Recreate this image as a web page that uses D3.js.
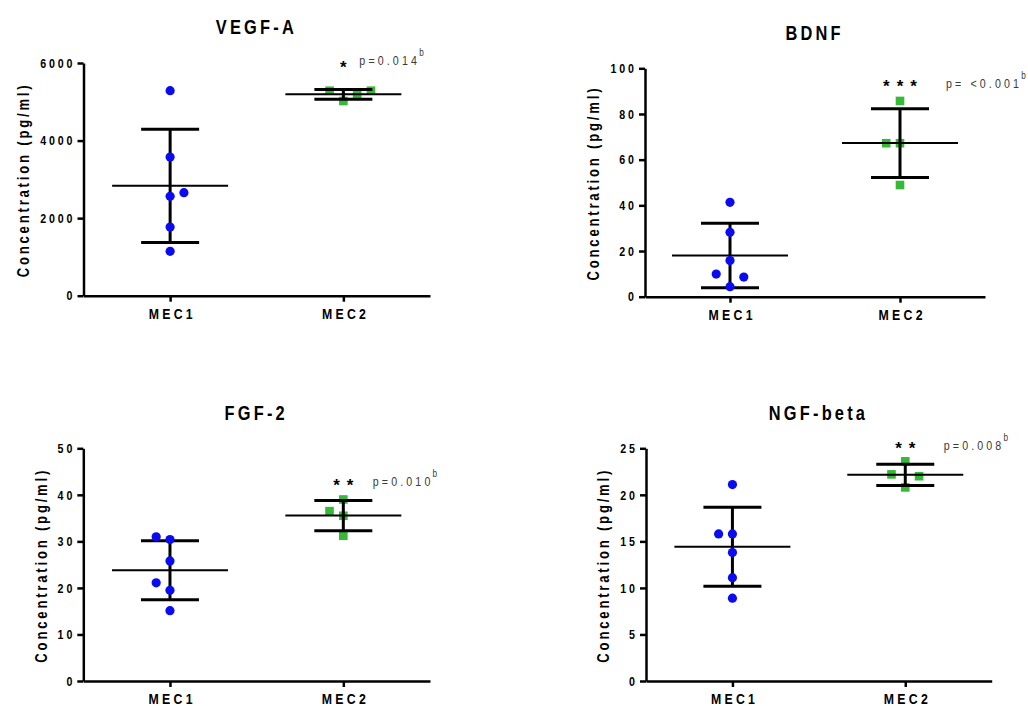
<!DOCTYPE html>
<html>
<head>
<meta charset="utf-8">
<script src="https://cdn.jsdelivr.net/npm/d3@7"></script>
<style>
  body { margin: 0; background: #fff; }
  svg { display: block; }
</style>
</head>
<body>
<svg id="chart" width="1028" height="706"></svg>
<script>
// data (pg/ml), in the order the points get placed
var panelTitles = ["VEGF-A", "BDNF", "FGF-2", "NGF-beta"];
var groups = ["MEC1", "MEC2"];
var yMax = [6000, 100, 50, 25];
var yStep = [2000, 20, 10, 5];

var vegfMec1 = [2563, 2656, 5286, 3576, 1771, 1145];
var vegfMec2 = [5020, 5175, 5286, 5286];
var bdnfMec1 = [4.4, 8.6, 9.9, 15.8, 28.2, 41.3];
var bdnfMec2 = [67.2, 67.2, 85.7, 48.9];
var fgfMec1 = [30.4, 31.0, 19.5, 21.1, 25.8, 15.1];
var fgfMec2 = [39.0, 35.5, 36.5, 31.2];
var ngfMec1 = [15.8, 15.8, 21.1, 13.8, 11.1, 8.9];
var ngfMec2 = [23.6, 20.8, 22.2, 22.0];

var stars = ["*", "***", "**", "**"];
var pTexts = ["p=0.014", "p= <0.001", "p=0.010", "p=0.008"];

var values = [
    [vegfMec1, vegfMec2],
    [bdnfMec1, bdnfMec2],
    [fgfMec1, fgfMec2],
    [ngfMec1, ngfMec2]
];

// layout
var frames = [
    {left: 83.5, right: 430, top: 63, bottom: 295.7},
    {left: 645, right: 985, top: 68.3, bottom: 296.7},
    {left: 83.3, right: 430, top: 448.3, bottom: 681},
    {left: 646, right: 991.7, top: 448.3, bottom: 681}
];
var dodgeSide = [[1, 1], [1, -1], [-1, -1], [-1, -1]];
var notes = [
    {starY: 63, pX: 16, pY: 65},
    {starY: 82, pX: 46, pY: 88},
    {starY: 481, pX: 29.5, pY: 486},
    {starY: 444, pX: 38.5, pY: 450}
];

var font = "'Liberation Sans', Arial, sans-serif";
var narrowK = 0.82;   // squeeze factor to mimic the narrow face
var blue = "#0b0bf2", green = "#36b936";
var slotGap = 13.8;

var svg = d3.select("#chart");

// horizontal squeeze around the text's own x
function squeeze(sel) {
    sel.each(function() {
        var t = d3.select(this);
        var x0 = +t.attr("x") || 0;
        t.attr("transform", "translate(" + (x0 * (1 - narrowK)) + ",0) scale(" + narrowK + ",1)");
    });
}

// place points in slots so close values don't overlap
function dodge(vals, y, side) {
    var placed = [];
    return vals.map(function(v) {
        var py = y(v);
        var order = [0, side, -side, 2 * side, -2 * side, 3 * side, -3 * side];
        var slot = order.find(function(s) {
            return !placed.some(function(q) { return q.slot === s && Math.abs(q.py - py) < 14; });
        });
        placed.push({slot: slot, py: py});
        return {value: v, slot: slot};
    });
}

panelTitles.forEach(function(title, i) {
    var f = frames[i];
    var g = svg.append("g");

    var x = d3.scalePoint().domain(groups).range([f.left, f.right]).padding(0.5);
    var y = d3.scaleLinear().domain([0, yMax[i]]).range([f.bottom, f.top]);

    // title
    g.append("text")
        .attr("x", (f.left + f.right) / 2 - 2)
        .attr("y", f.top - 28.5)
        .attr("dx", 2)
        .attr("text-anchor", "middle")
        .style("font-family", font)
        .style("font-weight", "bold")
        .style("font-size", "20px")
        .style("letter-spacing", "3.9px")
        .text(title)
        .call(squeeze);

    // axes
    var yAxis = g.append("g")
        .attr("transform", "translate(" + f.left + ",0)")
        .call(d3.axisLeft(y)
            .tickValues(d3.range(0, yMax[i] + yStep[i] / 2, yStep[i]))
            .tickFormat(d3.format("d"))
            .tickSize(6).tickSizeOuter(0).tickPadding(5));
    var xAxis = g.append("g")
        .attr("transform", "translate(0," + f.bottom + ")")
        .call(d3.axisBottom(x).tickSize(6).tickSizeOuter(0).tickPadding(6));

    g.selectAll(".domain, .tick line")
        .attr("stroke", "#000")
        .attr("stroke-width", 2.5);

    yAxis.selectAll("text")
        .attr("dx", 3.5)
        .style("font-family", font)
        .style("font-weight", "bold")
        .style("font-size", "13px")
        .style("letter-spacing", "3.5px")
        .attr("fill", "#000")
        .call(squeeze);

    xAxis.selectAll("text")
        .attr("y", 23).attr("dy", 0)
        .attr("dx", 2)
        .style("font-family", font)
        .style("font-weight", "bold")
        .style("font-size", "15px")
        .style("letter-spacing", "4px")
        .attr("fill", "#000")
        .call(squeeze);

    // y label sits left of the widest tick label
    var minLeft = d3.min(yAxis.selectAll("text").nodes(), function(n) {
        return n.getBoundingClientRect().left;
    });
    g.append("text")
        .attr("transform", "translate(" + (minLeft - 11) + "," + ((f.top + f.bottom) / 2 + 2) + ") rotate(-90) scale(" + narrowK + ",1)")
        .attr("dx", 1.7)
        .attr("text-anchor", "middle")
        .style("font-family", font)
        .style("font-weight", "bold")
        .style("font-size", "16px")
        .style("letter-spacing", "3.4px")
        .text("Concentration (pg/ml)");

    var stats = values[i].map(function(vals) {
        return {mean: d3.mean(vals), sd: d3.deviation(vals)};
    });

    function drawPoints(k) {
        var pts = dodge(values[i][k], y, dodgeSide[i][k]);
        var cx = x(groups[k]);
        if (k === 0) {
            g.append("g").selectAll("circle")
                .data(pts).enter().append("circle")
                .attr("cx", function(d) { return cx + d.slot * slotGap; })
                .attr("cy", function(d) { return y(d.value); })
                .attr("r", 4.6)
                .attr("fill", blue);
        } else {
            g.append("g").selectAll("rect")
                .data(pts).enter().append("rect")
                .attr("x", function(d) { return cx + d.slot * slotGap - 4.3; })
                .attr("y", function(d) { return y(d.value) - 4.3; })
                .attr("width", 8.6)
                .attr("height", 8.6)
                .attr("fill", green);
        }
    }

    drawPoints(1);

    // mean +/- SD
    var bars = g.append("g").selectAll("g")
        .data(stats).enter().append("g")
        .attr("transform", function(d, k) { return "translate(" + x(groups[k]) + ",0)"; });
    bars.append("line")
        .attr("y1", function(d) { return y(d.mean + d.sd); })
        .attr("y2", function(d) { return y(d.mean - d.sd); })
        .attr("stroke", "#000").attr("stroke-width", 3);
    bars.append("line")
        .attr("x1", -29).attr("x2", 29)
        .attr("y1", function(d) { return y(d.mean + d.sd); })
        .attr("y2", function(d) { return y(d.mean + d.sd); })
        .attr("stroke", "#000").attr("stroke-width", 3);
    bars.append("line")
        .attr("x1", -29).attr("x2", 29)
        .attr("y1", function(d) { return y(d.mean - d.sd); })
        .attr("y2", function(d) { return y(d.mean - d.sd); })
        .attr("stroke", "#000").attr("stroke-width", 3);
    bars.append("line")
        .attr("x1", -58).attr("x2", 58)
        .attr("y1", function(d) { return y(d.mean); })
        .attr("y2", function(d) { return y(d.mean); })
        .attr("stroke", "#000").attr("stroke-width", 2);

    drawPoints(0);

    // significance
    var n = notes[i];
    g.append("text")
        .attr("x", x("MEC2"))
        .attr("y", n.starY + 10)
        .attr("dx", 3.5)
        .attr("text-anchor", "middle")
        .style("font-family", font)
        .style("font-weight", "bold")
        .style("font-size", "17px")
        .style("letter-spacing", "7px")
        .text(stars[i]);

    var pt = g.append("text")
        .attr("x", x("MEC2") + n.pX)
        .attr("y", n.pY)
        .style("font-family", font)
        .style("font-size", "13px")
        .attr("fill", "#3a3a3a");
    pt.append("tspan")
        .style("letter-spacing", "3.8px")
        .text(pTexts[i]);
    pt.append("tspan")
        .attr("dx", -1)
        .attr("dy", -9)
        .style("font-size", "10px")
        .style("letter-spacing", "0px")
        .text("b");
    pt.call(squeeze);
});
</script>
</body>
</html>
